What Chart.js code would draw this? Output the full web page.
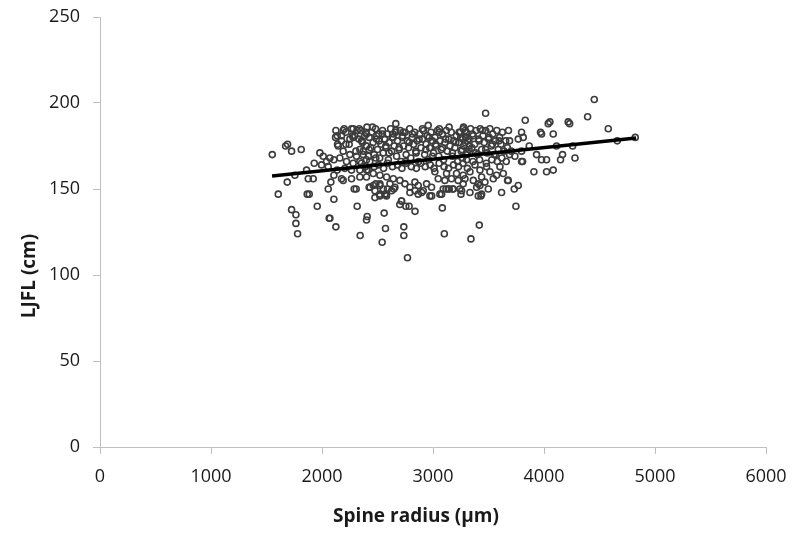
<!DOCTYPE html>
<html>
<head>
<meta charset="utf-8">
<script src="https://cdn.jsdelivr.net/npm/chart.js@4.4.1/dist/chart.umd.min.js"></script>
<style>
  html, body { margin: 0; padding: 0; background: #fff; }
  #wrap { width: 792px; height: 534px; }
</style>
</head>
<body>
<div id="wrap"><canvas id="myChart" width="792" height="534"></canvas></div>
<script>
// spine radius (µm) and LJFL (cm)
const radiusUm = [
  1552, 1672, 1690, 1726, 1813, 1606, 1687, 1726, 1765, 1765, 1780, 1756, 1861, 1867, 1885, 1876, 1921, 1930, 1957, 1981,
  2011, 1996, 2041, 2071, 2107, 2056, 2107, 2137, 2080, 2056, 2176, 2107, 2065, 2071, 2125, 2191, 2137, 2176, 2146, 2215,
  2251, 2296, 2356, 2401, 2341, 2191, 2251, 2311, 2371, 2161, 2221, 2281, 2341, 2401, 2206, 2266, 2341, 2416, 2266, 2341,
  2401, 2290, 2308, 2431, 2317, 2407, 2401, 2344, 2425, 2560, 2572, 2542, 2521, 2581, 2485, 2521, 2521, 2581, 2590, 2647,
  2716, 2701, 2755, 2785, 2838, 2737, 2737, 2770, 2125, 2200, 2122, 2176, 2140, 2281, 2317, 2281, 2332, 2401, 2491, 2566,
  2641, 2731, 2266, 2191, 2665, 2957, 3057, 3272,
  // below the line, middle
  2402, 2462, 2522, 2582, 2642, 2612, 2522, 2462, 2432, 2477, 2552, 2627, 2657, 2702, 2747, 2792, 2837, 2867, 2912, 2942,
  2987, 2972, 3062, 3092, 3137, 3182, 3242, 3272, 3227, 3167, 3107, 3047, 3017, 3122, 3212, 3272, 2717, 2477, 2567, 2792,
  2867,
  // dense band
  2350, 2360, 2372, 2385, 2398, 2405, 2418, 2425, 2440, 2448, 2460, 2470, 2482, 2490, 2500, 2512, 2520, 2532, 2545, 2552,
  2565, 2575, 2585, 2598, 2605, 2618, 2628, 2640, 2650, 2662, 2672, 2680, 2695, 2705, 2712, 2725, 2735, 2748, 2758, 2768,
  2780, 2790, 2800, 2812, 2825, 2835, 2848, 2858, 2870, 2880, 2892, 2905, 2915, 2925, 2938, 2948, 2960, 2970, 2982, 2995,
  3005, 3018, 3028, 3040, 3052, 3062, 3075, 3085, 3095, 3108, 3120, 3130, 3142, 3152, 3165, 3175, 3188, 3198, 3210, 3222,
  3232, 3245, 3255, 3268, 3278, 3290, 3300, 3312, 3325,
  2355, 2390, 2430, 2470, 2510, 2555, 2590, 2635, 2680, 2720, 2760, 2805, 2850, 2890, 2930, 2975, 3010, 3055, 3100, 3140,
  3185, 3230, 3270, 3310,
  // right part of the cluster
  3303, 3333, 3378, 3423, 3438, 3483, 3513, 3543, 3573, 3603, 3633, 3678, 3288, 3363, 3423, 3468, 3258, 3333, 3408, 3438,
  3250, 3262, 3275, 3288, 3300, 3312, 3325, 3338, 3350, 3362, 3375, 3388, 3400, 3412, 3425, 3438, 3450, 3462, 3475, 3488,
  3500, 3512, 3525, 3538, 3550, 3562, 3575, 3588, 3600, 3612, 3625, 3640, 3655, 3670, 3530, 3480, 3420, 3360, 3580, 3620,
  3660, 3690, 3690, 3705, 3680,
  3672, 3432, 3393, 3408, 3252, 3177, 3147, 3117, 3078, 2988, 2898, 2838, 3084, 3417, 3102, 3342, 3747, 3618, 3732, 3768,
  3498, 3474, 3831, 4038, 4053, 4218, 3978, 3969, 4083, 3798, 3813, 3768, 3867, 3798, 3933, 3978, 4023, 3738, 3798, 3807,
  4113, 4149, 4167, 3909, 4023, 4083,
  4453, 4393, 4231, 4579, 4822, 4660, 4258, 4279,
  // more of the dense band
  2215, 2245, 2275, 2305, 2335, 2365, 2395, 2425, 2455, 2485, 2515, 2545, 2575, 2605, 2635, 2665, 2695, 2725, 2755, 2785,
  2815, 2845, 2875, 2905, 2935, 2965, 2995, 3025, 3055, 3085, 3115, 3145, 3175, 3205, 3235, 3265, 3295, 3325, 3355, 3385,
  3415, 3445, 3475, 3505, 3535, 3565, 3595
]
const ljflCm = [
  170, 175, 176, 172, 173, 147, 154, 138, 135, 130, 124, 158, 161, 147, 147, 156, 156, 165, 140, 171,
  169, 164, 166, 168, 167, 163, 158, 161, 154, 150, 156, 144, 133, 133, 128, 155, 181, 178, 175, 176,
  179, 181, 178, 175, 173, 172, 170, 169, 170, 168, 166, 165, 166, 167, 162, 161, 161, 161, 156, 157,
  157, 150, 150, 151, 140, 134, 132, 123, 151, 136, 127, 119, 146, 146, 153, 152, 147, 147, 150, 150,
  143, 141, 140, 140, 137, 128, 123, 110, 184, 185, 180, 181, 176, 185, 184, 180, 179, 182, 181, 179,
  182, 183, 185, 184, 188, 187, 185, 185,
  161, 159, 158, 157, 156, 153, 153, 152, 151, 149, 150, 149, 151, 155, 153, 151, 154, 152, 149, 153,
  151, 146, 147, 150, 150, 150, 150, 153, 155, 156, 155, 156, 160, 159, 159, 158, 143, 145, 147, 148,
  147,
  184, 178, 172, 181, 175, 186, 169, 180, 174, 183, 177, 170, 185, 179, 173, 182, 168, 176, 184, 171,
  179, 174, 182, 167, 177, 185, 172, 180, 175, 183, 169, 178, 173, 184, 166, 180, 175, 183, 170, 178,
  174, 185, 168, 180, 176, 183, 171, 178, 166, 182, 174, 179, 184, 170, 176, 181, 167, 174, 183, 178,
  171, 180, 175, 184, 169, 178, 173, 182, 167, 177, 184, 172, 179, 175, 183, 169, 178, 174, 181, 166,
  177, 183, 172, 179, 175, 184, 170, 178, 173,
  165, 163, 166, 163, 164, 162, 165, 163, 164, 162, 165, 163, 162, 165, 163, 164, 162, 165, 163, 162,
  164, 163, 165, 162,
  167, 160, 164, 161, 157, 163, 160, 156, 158, 163, 159, 155, 156, 155, 152, 154, 149, 148, 146, 147,
  180, 173, 186, 177, 183, 171, 179, 185, 174, 181, 176, 184, 170, 179, 185, 173, 181, 177, 184, 171,
  179, 185, 175, 182, 170, 178, 184, 173, 180, 176, 183, 172, 178, 174, 167, 165, 167, 166, 166, 168,
  166, 170, 178, 172, 184,
  155, 146, 151, 153, 147, 150, 150, 150, 147, 146, 148, 149, 139, 129, 124, 121, 140, 148, 150, 152,
  150, 194, 190, 188, 189, 189, 182, 183, 182, 183, 180, 179, 175, 172, 170, 167, 167, 169, 166, 166,
  175, 167, 170, 160, 160, 161,
  202, 192, 188, 185, 180, 178, 175, 168,
  183, 176, 181, 172, 185, 177, 183, 173, 186, 168, 178, 182, 175, 171, 180, 184, 174, 181, 166, 177,
  182, 172, 179, 185, 173, 180, 169, 176, 183, 174, 179, 186, 171, 177, 183, 168, 180, 175, 182, 171,
  178, 184, 173, 180, 176, 170, 178
]

// least squares line drawn by the spreadsheet
const trendX = [1550, 4830]
const trendY = [157.6, 179.7]

const xTicks = [0, 1000, 2000, 3000, 4000, 5000, 6000]
const yTicks = [0, 50, 100, 150, 200, 250]

const xTitle = 'Spine radius (µm)'
const yTitle = 'LJFL (cm)'

const points = radiusUm.map((r, i) => ({ x: r, y: ljflCm[i] }))
const trend = trendX.map((x, i) => ({ x: x, y: trendY[i] }))

const axisGray = '#bfbfbf'
const textColor = '#1a1a1a'
const tickFont = { family: 'Open Sans', size: 18 }

// axis titles sit a little off-centre in the original, so draw them by hand
const axisTitles = {
  id: 'axisTitles',
  afterDraw(chart) {
    const c = chart.ctx
    c.save()
    c.fillStyle = textColor
    c.font = 'bold 19px "Open Sans"'
    c.textAlign = 'center'
    c.textBaseline = 'middle'
    c.fillText(xTitle, 416, 517)
    c.translate(30, 276)
    c.rotate(-Math.PI / 2)
    c.fillText(yTitle, 0, 0)
    c.restore()
  }
}

const ctx = document.getElementById('myChart')
new Chart(ctx, {
  type: 'scatter',
  data: {
    datasets: [
      {
        label: 'trend',
        data: trend,
        showLine: true,
        borderColor: '#000',
        borderWidth: 3.5,
        pointRadius: 0,
        order: 0
      },
      {
        label: 'LJFL',
        data: points,
        pointRadius: 3,
        borderWidth: 1.6,
        borderColor: '#3c3c3c',
        backgroundColor: 'rgba(0,0,0,0)',
        order: 1
      }
    ]
  },
  options: {
    responsive: false,
    animation: false,
    events: [],
    layout: { padding: { top: 17, right: 26, left: 0, bottom: 0 } },
    plugins: { legend: { display: false }, tooltip: { enabled: false } },
    scales: {
      x: {
        type: 'linear',
        min: 0,
        max: 6000,
        afterBuildTicks: (s) => { s.ticks = xTicks.map(v => ({ value: v })) },
        afterFit: (s) => { s.height = 87; s.paddingLeft = 0; s.paddingRight = 0 },
        grid: { drawOnChartArea: false, drawTicks: true, tickLength: 7, color: axisGray },
        border: { color: axisGray, width: 1 },
        ticks: { font: tickFont, color: textColor, padding: 12, maxRotation: 0, callback: (v) => String(v) }
      },
      y: {
        type: 'linear',
        min: 0,
        max: 250,
        afterBuildTicks: (s) => { s.ticks = yTicks.map(v => ({ value: v })) },
        afterFit: (s) => { s.width = 100; s.paddingTop = 0; s.paddingBottom = 0 },
        grid: { drawOnChartArea: false, drawTicks: true, tickLength: 7, color: axisGray },
        border: { color: axisGray, width: 1 },
        ticks: { font: tickFont, color: textColor, padding: 13, callback: (v) => String(v) }
      }
    }
  },
  plugins: [axisTitles]
})
</script>
</body>
</html>
